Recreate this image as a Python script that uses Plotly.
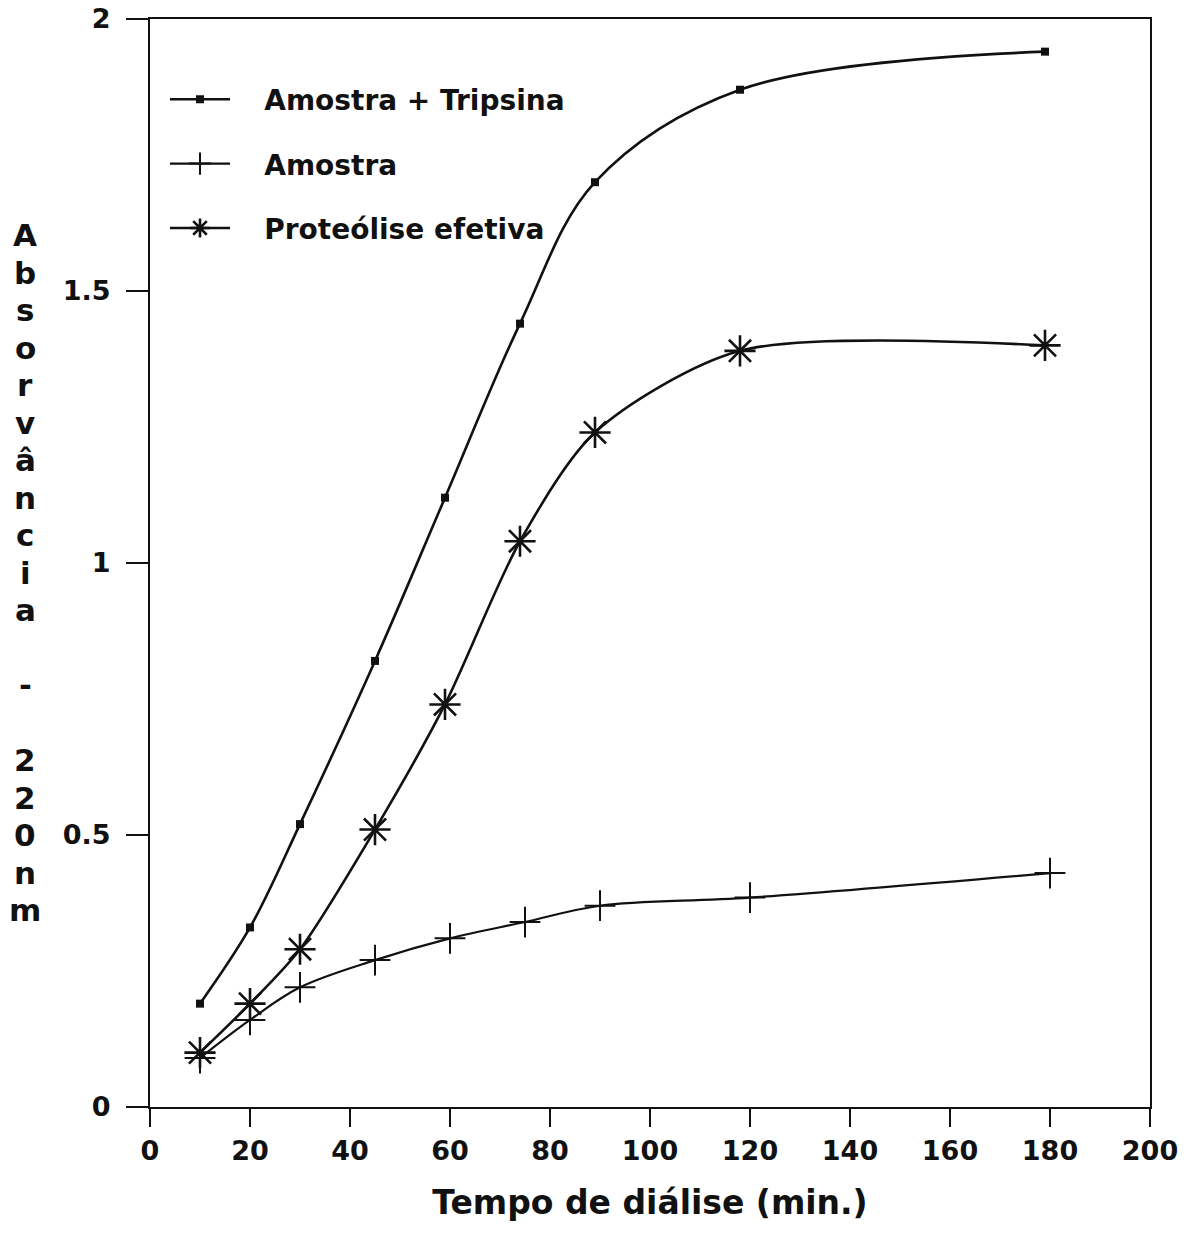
import plotly.graph_objects as go

# ---- data ----
time_tripsina = [10, 20, 30, 45, 59, 74, 89, 118, 179]
abs_tripsina = [0.19, 0.33, 0.52, 0.82, 1.12, 1.44, 1.70, 1.87, 1.94]

time_amostra = [10, 20, 30, 45, 60, 75, 90, 120, 180]
abs_amostra = [0.09, 0.16, 0.22, 0.27, 0.31, 0.34, 0.37, 0.385, 0.43]

time_proteolise = [10, 20, 30, 45, 59, 74, 89, 118, 179]
abs_proteolise = [0.10, 0.19, 0.29, 0.51, 0.74, 1.04, 1.24, 1.39, 1.40]

x_ticks = [0, 20, 40, 60, 80, 100, 120, 140, 160, 180, 200]
y_ticks = [0, 0.5, 1, 1.5, 2]
y_tick_labels = ["0", "0.5", "1", "1.5", "2"]

name_tripsina = "Amostra + Tripsina"
name_amostra = "Amostra"
name_proteolise = "Proteólise efetiva"
x_title = "Tempo de diálise (min.)"
y_title_chars = list("Absorvância") + [" ", "-", " "] + list("220nm")

FONT = "DejaVu Sans"
BLACK = "#111111"
PAD = "\u00a0\u00a0\u00a0"

fig = go.Figure()

fig.add_trace(go.Scatter(
    x=time_tripsina, y=abs_tripsina, name=PAD + name_tripsina,
    mode="lines+markers", legendgroup="g1",
    line=dict(color=BLACK, width=2.6, shape="spline", smoothing=1.0),
    marker=dict(symbol="square", size=8, color=BLACK),
))
fig.add_trace(go.Scatter(
    x=time_amostra, y=abs_amostra, name=PAD + name_amostra,
    mode="lines+markers", legendgroup="g2",
    line=dict(color=BLACK, width=2.2, shape="spline", smoothing=1.0),
    marker=dict(symbol="cross-thin-open", size=22, color=BLACK,
                line=dict(color=BLACK, width=2)),
))
fig.add_trace(go.Scatter(
    x=time_proteolise, y=abs_proteolise, name=PAD + name_proteolise,
    mode="lines+markers", legendgroup="g3",
    line=dict(color=BLACK, width=2.6, shape="spline", smoothing=0.8),
    marker=dict(symbol="asterisk-open", size=26, color=BLACK,
                line=dict(color=BLACK, width=2.6)),
))

# stacked vertical y-axis title
start_px, step_px = 235, 37.5
plot_top, plot_h = 19, 1088
annotations = []
for i, ch in enumerate(y_title_chars):
    if ch.strip() == "":
        continue
    pix = start_px + i * step_px
    annotations.append(dict(
        text=ch, xref="paper", yref="paper",
        x=-0.125, y=1 - (pix - plot_top) / plot_h,
        xanchor="center", yanchor="middle", showarrow=False,
        font=dict(family=FONT, size=31, color=BLACK, weight="bold"),
    ))

fig.update_layout(
    width=1196, height=1234,
    margin=dict(l=150, r=46, t=19, b=127, autoexpand=False),
    paper_bgcolor="white", plot_bgcolor="white",
    showlegend=True,
    legend=dict(
        x=0.015, y=0.949, xanchor="left", yanchor="top",
        bgcolor="rgba(0,0,0,0)", borderwidth=0,
        traceorder="grouped", tracegroupgap=25,
        itemwidth=60,
        font=dict(family=FONT, size=28, color=BLACK, weight="bold"),
    ),
    annotations=annotations,
    xaxis=dict(
        range=[0, 200], tickvals=x_ticks, ticktext=[str(v) for v in x_ticks],
        showline=True, linecolor=BLACK, linewidth=2.2, mirror=True,
        ticks="outside", ticklen=18, tickwidth=2, tickcolor=BLACK,
        showgrid=False, zeroline=False, automargin=False,
        tickfont=dict(family=FONT, size=27, color=BLACK, weight="bold"),
        title=dict(text=x_title, standoff=26,
                   font=dict(family=FONT, size=33, color=BLACK, weight="bold")),
    ),
    yaxis=dict(
        range=[0, 2], tickvals=y_ticks, ticktext=y_tick_labels,
        showline=True, linecolor=BLACK, linewidth=2.2, mirror=True,
        ticks="outside", ticklen=22, tickwidth=2, tickcolor=BLACK,
        showgrid=False, zeroline=False, automargin=False,
        ticklabelstandoff=10,
        tickfont=dict(family=FONT, size=27, color=BLACK, weight="bold"),
    ),
)

fig.write_html("out.html")
